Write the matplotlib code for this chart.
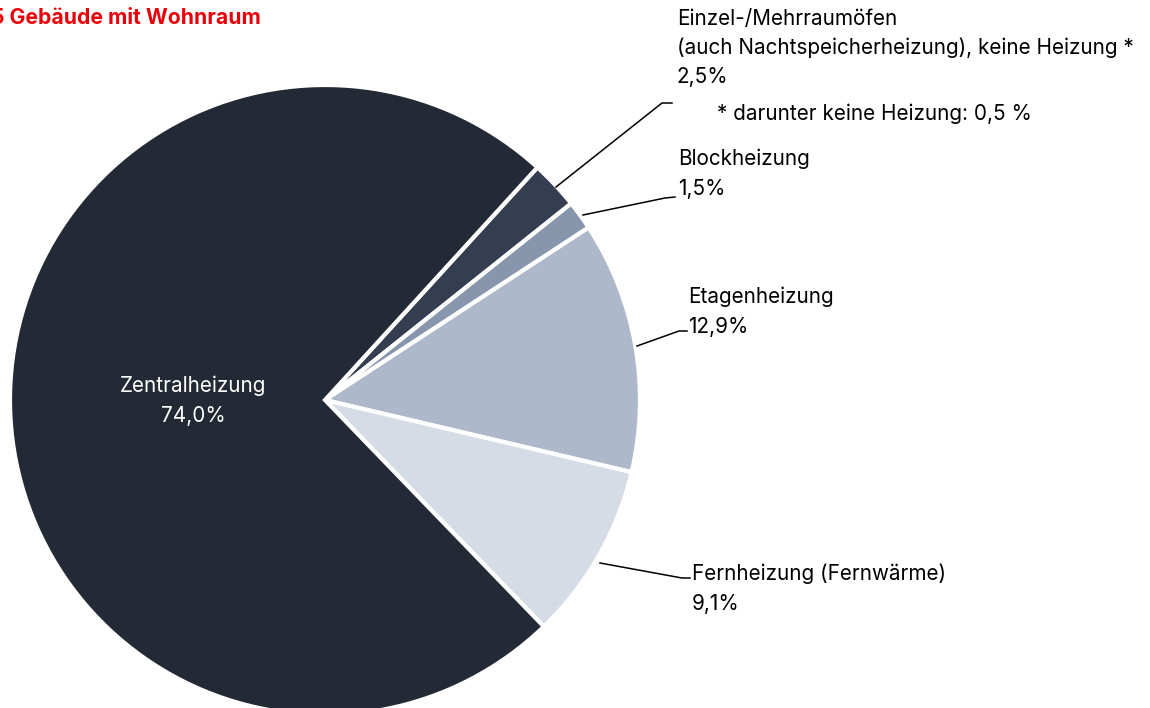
import matplotlib
matplotlib.use("Agg")
import matplotlib.pyplot as plt

plt.rcParams['font.family'] = ['Inter', 'DejaVu Sans']

# Anteile, im Uhrzeigersinn ab der Trennlinie oben rechts
labels = ['Einzel-/Mehrraumöfen', 'Blockheizung', 'Etagenheizung',
          'Fernheizung (Fernwärme)', 'Zentralheizung']
values = [2.5, 1.5, 12.9, 9.1, 74.0]
value_text = ['2,5%', '1,5%', '12,9%', '9,1%', '74,0%']
colors = ['#353e50', '#8795ad', '#adb8ca', '#d5dce6', '#232a35']

title = '5 Gebäude mit Wohnraum'
footnote = '* darunter keine Heizung: 0,5 %'

W, H = 1150, 708
fig = plt.figure(figsize=(W / 100, H / 100), dpi=100)
ax = fig.add_axes([0, 0, 1, 1])

cx, cy, r = 325, H - 400, 315
ax.pie(values, colors=colors, startangle=47.6, counterclock=False,
       center=(cx, cy), radius=r,
       wedgeprops=dict(edgecolor='white', linewidth=3))
ax.set_xlim(0, W)
ax.set_ylim(0, H)
ax.set_aspect('auto')
ax.axis('off')


def px(x, y):
    return x, H - y


fs = 14.9
# Leader lines
leaders = [
    [(556, 187), (662, 103), (672, 103)],
    [(583, 215), (665, 198), (675, 197)],
    [(637, 346), (679, 331), (687, 331)],
    [(600, 563), (682, 578), (690, 578)],
]
for pts in leaders:
    xs = [p[0] for p in pts]
    ys = [H - p[1] for p in pts]
    ax.plot(xs, ys, color='black', lw=1.1)

# Labels
ax.text(*px(677, 19), labels[0], fontsize=fs, va='center')
ax.text(*px(677, 48), '(auch Nachtspeicherheizung), keine Heizung *', fontsize=fs, va='center')
ax.text(*px(677, 77), value_text[0], fontsize=fs, va='center')
ax.text(*px(717, 114), footnote, fontsize=fs, va='center')

ax.text(*px(678, 159), labels[1], fontsize=fs, va='center')
ax.text(*px(678, 189), value_text[1], fontsize=fs, va='center')

ax.text(*px(688, 297), labels[2], fontsize=fs, va='center')
ax.text(*px(688, 327), value_text[2], fontsize=fs, va='center')

ax.text(*px(692, 574), labels[3], fontsize=fs, va='center')
ax.text(*px(692, 604), value_text[3], fontsize=fs, va='center')

ax.text(*px(193, 386), labels[4], fontsize=fs, va='center', ha='center', color='white')
ax.text(*px(193, 416), value_text[4], fontsize=fs, va='center', ha='center', color='white')

ax.text(*px(-9, 18), title, fontsize=15.2, fontweight='bold', color='#e8000b', va='center')

fig.savefig('out.png', dpi=100)
